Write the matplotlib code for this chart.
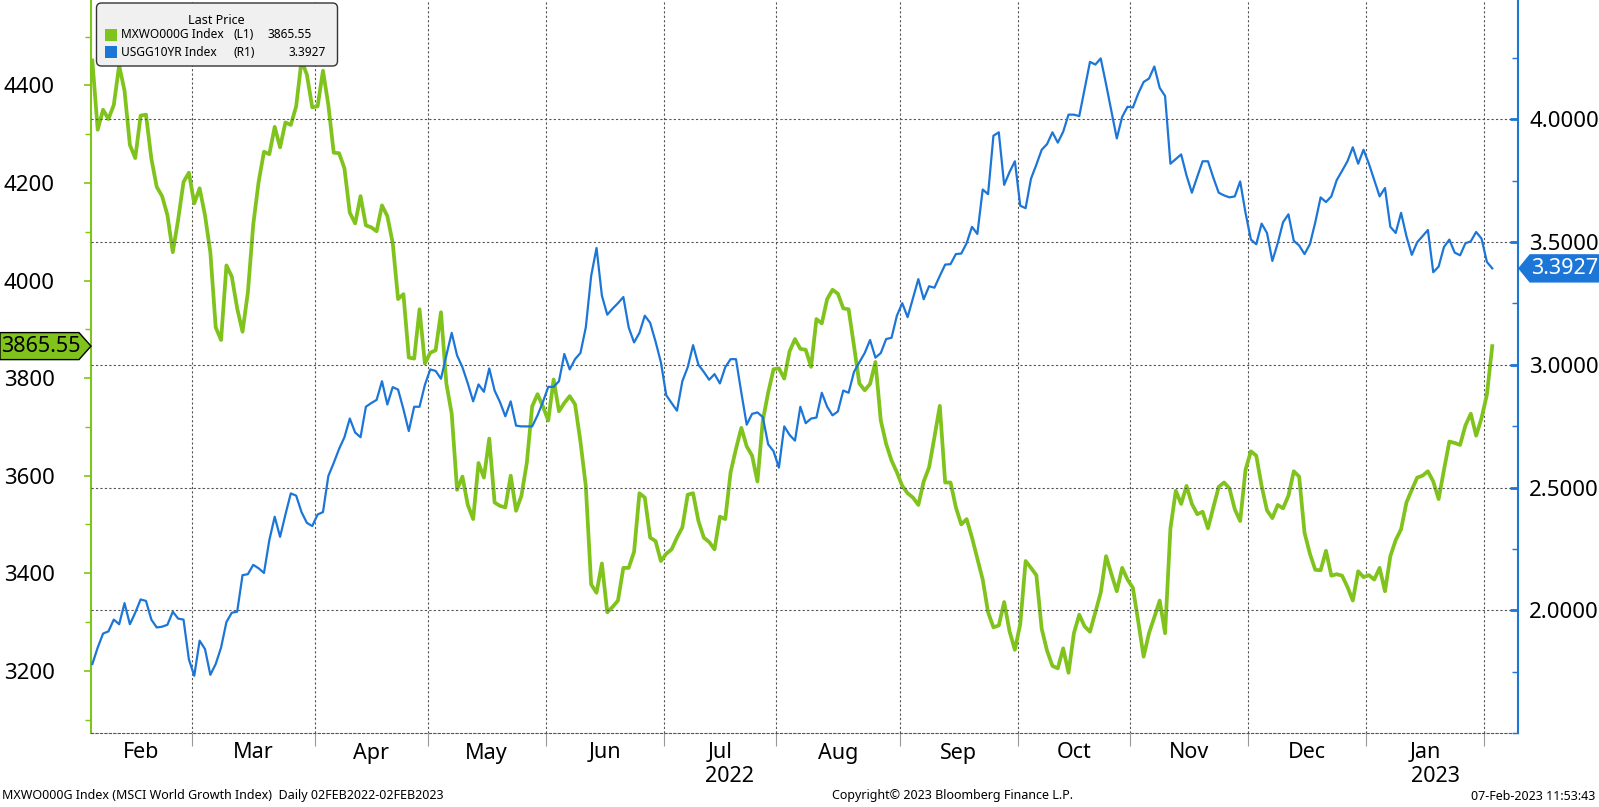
import numpy as np
import pandas as pd
import matplotlib
matplotlib.use("Agg")
import matplotlib.pyplot as plt
from matplotlib.patches import Polygon, FancyBboxPatch, Rectangle
from matplotlib.transforms import IdentityTransform, blended_transform_factory, offset_copy
from matplotlib.ticker import MultipleLocator, FormatStrFormatter

plt.rcParams['font.family'] = ['Noto Sans', 'DejaVu Sans']

# DATA: daily (weekday) closes, 02FEB2022 - 02FEB2023
dates = pd.bdate_range("2022-02-02", "2023-02-02")

mxwo = [4451, 4309, 4350, 4331, 4360, 4441, 4389, 4278, 4251, 4338,
        4340, 4250, 4192, 4173, 4134, 4058, 4125, 4202, 4221, 4158,
        4189, 4134, 4058, 3904, 3878, 4031, 4008, 3943, 3895, 3976,
        4115, 4202, 4264, 4259, 4315, 4273, 4324, 4319, 4357, 4451,
        4422, 4355, 4357, 4430, 4360, 4262, 4261, 4230, 4139, 4117,
        4173, 4113, 4109, 4101, 4154, 4132, 4077, 3962, 3972, 3842,
        3840, 3941, 3830, 3852, 3857, 3935, 3789, 3727, 3571, 3598,
        3540, 3511, 3626, 3596, 3676, 3545, 3538, 3535, 3600, 3528,
        3559, 3626, 3742, 3767, 3742, 3713, 3797, 3732, 3749, 3763,
        3746, 3670, 3579, 3377, 3360, 3420, 3320, 3331, 3344, 3411,
        3411, 3444, 3564, 3555, 3473, 3466, 3425, 3440, 3449, 3473,
        3494, 3561, 3564, 3507, 3473, 3464, 3449, 3516, 3511, 3607,
        3655, 3698, 3660, 3641, 3588, 3713, 3770, 3818, 3820, 3799,
        3855, 3880, 3860, 3858, 3823, 3921, 3912, 3962, 3981, 3973,
        3943, 3941, 3866, 3789, 3775, 3788, 3833, 3713, 3665, 3631,
        3607, 3579, 3564, 3555, 3540, 3588, 3617, 3679, 3743, 3586,
        3586, 3535, 3500, 3511, 3473, 3430, 3387, 3320, 3289, 3293,
        3341, 3281, 3243, 3296, 3425, 3411, 3396, 3286, 3241, 3210,
        3205, 3246, 3196, 3277, 3315, 3291, 3280, 3320, 3360, 3435,
        3398, 3363, 3411, 3387, 3370, 3301, 3229, 3277, 3310, 3344,
        3277, 3492, 3569, 3542, 3579, 3542, 3521, 3526, 3492, 3535,
        3577, 3586, 3574, 3531, 3507, 3612, 3650, 3641, 3579, 3529,
        3513, 3540, 3533, 3559, 3609, 3598, 3483, 3440, 3407, 3406,
        3446, 3395, 3398, 3395, 3372, 3344, 3404, 3392, 3396, 3387,
        3411, 3363, 3435, 3468, 3490, 3545, 3571, 3596, 3600, 3609,
        3588, 3552, 3612, 3670, 3667, 3663, 3703, 3727, 3682, 3718,
        3766, 3865.55]

usgg = [1.781, 1.848, 1.905, 1.914, 1.962, 1.943, 2.029, 1.943, 1.990, 2.044,
        2.038, 1.962, 1.930, 1.933, 1.941, 1.994, 1.966, 1.962, 1.800, 1.733,
        1.876, 1.842, 1.737, 1.781, 1.848, 1.952, 1.990, 1.994, 2.143, 2.147,
        2.185, 2.171, 2.152, 2.286, 2.381, 2.299, 2.390, 2.476, 2.467, 2.400,
        2.356, 2.343, 2.390, 2.400, 2.547, 2.600, 2.657, 2.705, 2.781, 2.724,
        2.705, 2.829, 2.844, 2.857, 2.933, 2.838, 2.909, 2.899, 2.819, 2.730,
        2.829, 2.829, 2.918, 2.981, 2.975, 2.943, 3.038, 3.130, 3.038, 2.990,
        2.924, 2.851, 2.920, 2.890, 2.985, 2.895, 2.848, 2.790, 2.851, 2.752,
        2.749, 2.749, 2.749, 2.794, 2.848, 2.910, 2.910, 2.933, 3.044, 2.981,
        3.023, 3.048, 3.152, 3.362, 3.476, 3.282, 3.204, 3.229, 3.251, 3.276,
        3.152, 3.091, 3.130, 3.200, 3.171, 3.095, 3.010, 2.876, 2.844, 2.813,
        2.933, 2.990, 3.080, 3.000, 2.971, 2.939, 2.962, 2.924, 2.990, 3.023,
        3.023, 2.886, 2.756, 2.800, 2.806, 2.787, 2.676, 2.648, 2.581, 2.749,
        2.714, 2.691, 2.829, 2.762, 2.781, 2.785, 2.886, 2.829, 2.794, 2.810,
        2.895, 2.886, 2.971, 3.010, 3.048, 3.101, 3.029, 3.048, 3.105, 3.110,
        3.200, 3.251, 3.194, 3.272, 3.349, 3.267, 3.320, 3.314, 3.362, 3.408,
        3.410, 3.451, 3.453, 3.495, 3.562, 3.533, 3.714, 3.695, 3.933, 3.947,
        3.733, 3.785, 3.829, 3.648, 3.638, 3.758, 3.815, 3.876, 3.899, 3.947,
        3.905, 3.949, 4.019, 4.019, 4.013, 4.124, 4.234, 4.223, 4.248, 4.143,
        4.032, 3.922, 4.010, 4.051, 4.048, 4.105, 4.152, 4.166, 4.215, 4.128,
        4.095, 3.819, 3.838, 3.857, 3.771, 3.701, 3.766, 3.829, 3.829, 3.762,
        3.701, 3.690, 3.682, 3.686, 3.747, 3.619, 3.510, 3.491, 3.575, 3.537,
        3.423, 3.495, 3.581, 3.613, 3.505, 3.486, 3.451, 3.491, 3.580, 3.682,
        3.663, 3.686, 3.752, 3.790, 3.829, 3.886, 3.819, 3.876, 3.819, 3.752,
        3.686, 3.720, 3.562, 3.537, 3.619, 3.524, 3.448, 3.499, 3.524, 3.549,
        3.377, 3.400, 3.480, 3.510, 3.457, 3.446, 3.495, 3.503, 3.541, 3.514,
        3.419, 3.3927]

year_labels = {(2022, 7): "2022", (2023, 1): "2023"}
GREEN = "#7fc31c"
BLUE = "#1c76d8"
GRID = "#555555"

# FIGURE
W, H = 1599, 807
fig = plt.figure(figsize=(W / 100, H / 100), dpi=100)
ax = fig.add_axes([91 / W, 1 - 733 / H, (1518 - 91) / W, 733 / H])
ax2 = ax.twinx()

x = np.arange(len(dates))
ax.plot(x, mxwo, color=GREEN, lw=2.7, solid_joinstyle="round")
ax2.plot(x, usgg, color=BLUE, lw=1.6, solid_joinstyle="round")

ax.set_xlim(-0.25, 265.8)
ax.set_ylim(3072.5, 4575)
ax2.set_ylim(1.5, 4.486)

# month boundaries (vertical grid) + centred month labels
starts = np.flatnonzero(np.r_[True, dates.month[1:] != dates.month[:-1]])
bounds = starts[1:] - 0.5
ax.set_xticks(bounds)
ax.set_xticklabels([])
ax.tick_params(axis="x", length=9, color="#999999", width=0.8)
ax.grid(axis="x", color=GRID, ls=(0, (2, 2)), lw=0.8)

trans = blended_transform_factory(ax.transData, fig.transFigure)
ends = np.r_[starts[1:], len(dates)]
for s, e in zip(starts, ends):
    if e - s < 5:
        continue
    c = (s - 0.5 + e - 0.5) / 2
    d = dates[s]
    ax.text(c, 1 - 753 / H, d.strftime("%b"), transform=trans, ha="center",
            va="center", fontsize=15.5)
    if (d.year, d.month) in year_labels:
        ax.text(c, 1 - 776 / H, year_labels[(d.year, d.month)],
                transform=offset_copy(trans, fig, x=10, units="dots"),
                ha="center", va="center", fontsize=15.5)

# left axis (MXWO000G)
ax.yaxis.set_major_locator(MultipleLocator(200))
ax.yaxis.set_minor_locator(MultipleLocator(100))
ax.tick_params(axis="y", which="major", direction="out", length=5, width=1.2,
               color=GREEN, labelsize=16, pad=21)
ax.tick_params(axis="y", which="minor", direction="out", length=4, width=1,
               color=GREEN)

# right axis (USGG10YR)
ax2.set_yticks([2.0, 2.5, 3.0, 3.5, 4.0])
ax2.yaxis.set_minor_locator(MultipleLocator(0.25))
ax2.yaxis.set_major_formatter(FormatStrFormatter("%.4f"))
ax2.tick_params(axis="y", which="major", direction="in", length=6, width=2,
                color=BLUE, labelsize=16, pad=8)
ax2.tick_params(axis="y", which="minor", direction="in", length=4, width=1,
                color=BLUE)
ax2.grid(axis="y", color=GRID, ls=(0, (2, 2)), lw=0.8)

for a in (ax, ax2):
    a.spines["top"].set_visible(False)
ax.spines["right"].set_visible(False)
ax2.spines["left"].set_visible(False)
ax2.spines["bottom"].set_visible(False)
ax.spines["left"].set_color(GREEN)
ax.spines["left"].set_linewidth(1.5)
ax2.spines["right"].set_color(BLUE)
ax2.spines["right"].set_linewidth(1.5)
ax.spines["bottom"].set_color(GRID)
ax.spines["bottom"].set_linestyle((0, (2, 2)))
ax.spines["bottom"].set_linewidth(0.8)

# last-price tags on the axes
ident = IdentityTransform()
xl = ax.transAxes.transform((0, 0))[0]
xr = ax.transAxes.transform((1, 0))[0]
yl = ax.transData.transform((0, mxwo[-1]))[1]
yr = ax2.transData.transform((0, usgg[-1]))[1]
h = 13.5
fig.add_artist(Polygon([(0, yl - h), (xl - 12, yl - h), (xl, yl), (xl - 12, yl + h), (0, yl + h)],
                       closed=True, fc=GREEN, ec="black", lw=1, transform=ident))
fig.text((xl - 12) / 2 + 1, yl, f"{mxwo[-1]:.2f}", transform=ident, ha="center",
         va="center", fontsize=15.5, color="black")
fig.add_artist(Polygon([(xr + 1, yr), (xr + 12, yr + h), (W, yr + h), (W, yr - h), (xr + 12, yr - h)],
                       closed=True, fc=BLUE, ec=BLUE, lw=1, transform=ident))
fig.text((xr + 12 + W) / 2, yr, f"{usgg[-1]:.4f}", transform=ident, ha="center",
         va="center", fontsize=15.5, color="white")

# legend box
inch = fig.dpi_scale_trans
fig.add_artist(FancyBboxPatch((0.965, (H - 66) / 100), 2.41, 0.63,
                              boxstyle="round,pad=0,rounding_size=0.05",
                              fc="#f0f0f0", ec="#333333", lw=1, transform=inch))
fs = 8.6
fig.text(216 / W, 1 - 20.5 / H, "Last Price", ha="center", va="center", fontsize=fs + 0.4)
rows = [("MXWO000G Index", "(L1)", f"{mxwo[-1]:.2f}", GREEN, 35, 312),
        ("USGG10YR Index", "(R1)", f"{usgg[-1]:.4f}", BLUE, 52, 326)]
for name, side, val, col, yy, xv in rows:
    fig.add_artist(Rectangle((1.05, (H - yy - 6) / 100), 0.12, 0.12, fc=col,
                             ec="none", transform=inch))
    fig.text(120.5 / W, 1 - yy / H, name, ha="left", va="center", fontsize=fs)
    fig.text(233 / W, 1 - yy / H, side, ha="left", va="center", fontsize=fs)
    fig.text(xv / W, 1 - yy / H, val, ha="right", va="center", fontsize=fs)

# footer
fig.text(2 / W, 1 - 796 / H, "MXWO000G Index (MSCI World Growth Index)  Daily 02FEB2022-02FEB2023",
         ha="left", va="center", fontsize=9)
fig.text(953 / W, 1 - 796 / H, "Copyright\u00a9 2023 Bloomberg Finance L.P.",
         ha="center", va="center", fontsize=9)
fig.text(1595 / W, 1 - 796 / H, "07-Feb-2023 11:53:43", ha="right", va="center",
         fontsize=9)

fig.savefig("out.png", dpi=100)
